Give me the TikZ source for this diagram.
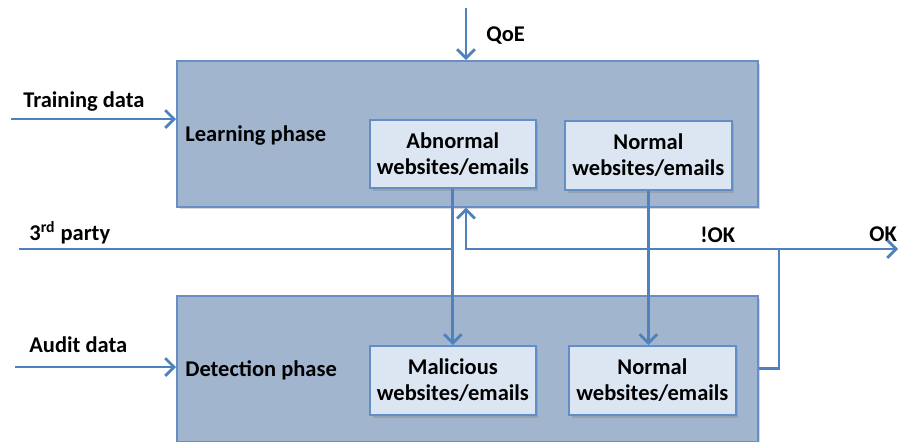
\documentclass[tikz,border=0pt]{standalone}
\usepackage{fontspec}
\setmainfont{Carlito}
\usepackage{tikz}
\usetikzlibrary{arrows,arrows.meta,positioning,calc,shadows}
\definecolor{linkblue}{RGB}{79,129,189}
\definecolor{phasefill}{RGB}{161,181,206}
\definecolor{phaseedge}{RGB}{104,142,196}
\definecolor{classfill}{RGB}{220,230,242}

\tikzset{
  txt/.style={font=\fontsize{12.8}{15}\selectfont\bfseries},
  phase/.style={draw=phaseedge, fill=phasefill, line width=1pt, anchor=north west,
    minimum width=11.62cm, minimum height=2.92cm, inner sep=0pt,
    drop shadow={shadow xshift=1.5pt, shadow yshift=-1.5pt, opacity=0.3}},
  class/.style={txt, draw=linkblue!90, fill=classfill, line width=1pt, anchor=north west,
    minimum width=3.32cm, minimum height=1.36cm, align=center, inner sep=0pt,
    drop shadow={shadow xshift=1.5pt, shadow yshift=-1.5pt, opacity=0.35}},
  lbl/.style={txt, anchor=base west, inner sep=0pt},
  flow/.style={draw=linkblue, line width=1.6pt},
  flowto/.style={flow, -{Straight Barb[length=5pt,width=10pt,line width=1.6pt]}}
}

\begin{document}
\begin{tikzpicture}[x=0.02cm, y=-0.02cm]
    \fill[white] (0,0) rectangle (898,441);
    \useasboundingbox (0,0) rectangle (898,441);

    % phase boxes
    \node [phase] (learn) at (176,60) {};
    \node [phase] (detect) at (176,295) {};

    % classes
    \node [class] (abn) at (369,119) {Abnormal\\websites/emails};
    \node [class, minimum width=3.34cm, minimum height=1.38cm] (normA) at (564,120) {Normal\\websites/emails};
    \node [class, minimum height=1.38cm] (mal) at (369,345) {Malicious\\websites/emails};
    \node [class, minimum width=3.34cm, minimum height=1.38cm] (normB) at (568,345) {Normal\\websites/emails};

    % labels
    \node [lbl] (learnlbl) at (185,141) {Learning phase};
    \node [lbl] (detectlbl) at (185,376) {Detection phase};
    \node [lbl] (tdlbl) at (23,107) {Training data};
    \node [lbl] (qoelbl) at (486,41) {QoE};
    \node [lbl] (tplbl) at (29,240) {3\textsuperscript{rd} party};
    \node [lbl] (adlbl) at (29,352) {Audit data};
    \node [lbl] (noklbl) at (700,242) {!OK};
    \node [lbl] (oklbl) at (869,241) {OK};

    % free ends
    \coordinate (tdin) at (11,119);
    \coordinate (qoein) at (466,8);
    \coordinate (tpin) at (19,249);
    \coordinate (adin) at (15,367);
    \coordinate (fork) at (779,249);
    \coordinate (okout) at (898,249);

    \draw [flowto] (tdin) -- (tdin -| learn.west);
    \draw [flowto] (qoein) -- (qoein |- learn.north);
    \draw [flowto] (adin) -- (adin -| detect.west);
    \draw [flow] (tpin) -- (tpin -| abn.south);
    \draw [flowto] (abn.south) -- (mal.north);
    \draw [flowto] (normA.south) -- (normA.south |- normB.north);
    \draw [flowto] (detect.east) -| (fork) -- (fork -| qoein) -- (qoein |- learn.south);
    \draw [flowto] (fork) -- (okout);
\end{tikzpicture}
\end{document}
